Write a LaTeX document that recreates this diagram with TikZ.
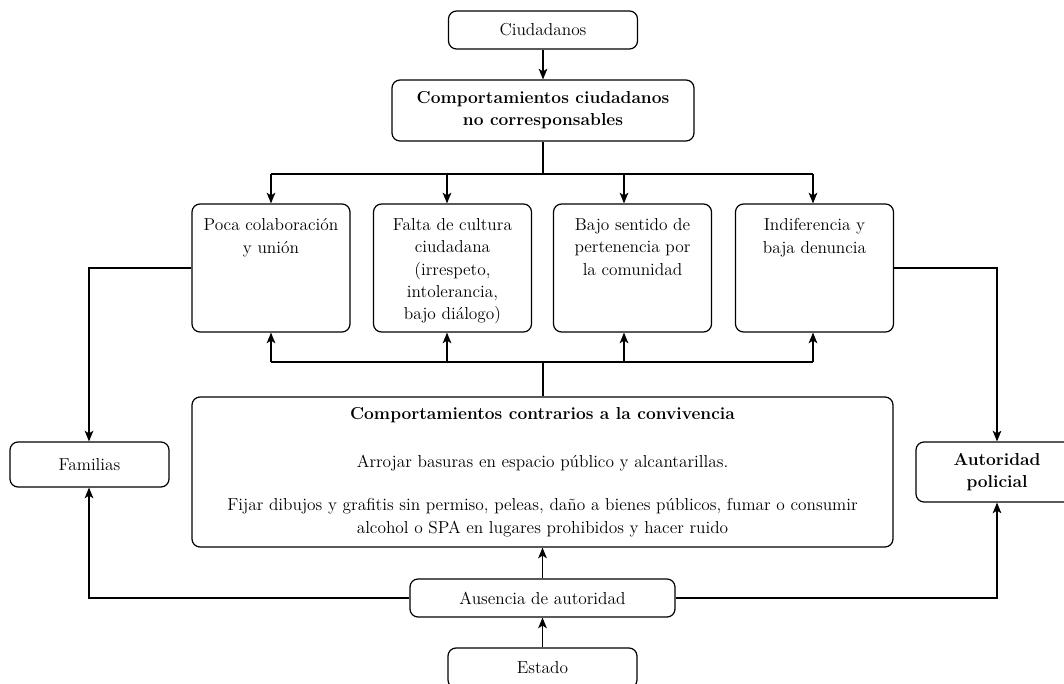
\documentclass[tikz,border=0pt]{standalone}
\usetikzlibrary{arrows.meta}
\begin{document}
\begin{tikzpicture}[x=0.75pt,y=-0.75pt,
  txt/.style={font=\fontsize{13}{16.7}\selectfont},
  box/.style={draw,line width=0.9pt,rounded corners=6pt,inner sep=0pt,align=center,txt},
  arr/.style={line width=0.9pt,-{Stealth[length=8pt,width=6.5pt,inset=2pt]}},
  ln/.style={line width=0.9pt}]
\useasboundingbox (0,0) rectangle (1064,684);
\fill[white] (0,0) rectangle (1064,684);
% nodes
\node[box,minimum width=141.75pt,minimum height=28.5pt] (ciu) at (543,30) {Ciudadanos};
\node[box,minimum width=226.5pt,minimum height=45.75pt] (cnc) at (543,110.5) {\bfseries Comportamientos ciudadanos\\\bfseries no corresponsables};
\node[box,minimum width=118.5pt,minimum height=96pt] (b1) at (271,268)
  {\parbox[c][74pt][t]{116pt}{\centering Poca colaboración\\y unión}};
\node[box,minimum width=118.5pt,minimum height=96pt] (b2) at (452.5,268)
  {\parbox[c][74pt][t]{116pt}{\centering Falta de cultura\\ciudadana\\(irrespeto,\\intolerancia,\\bajo diálogo)}};
\node[box,minimum width=118.5pt,minimum height=96pt] (b3) at (632.5,268)
  {\parbox[c][74pt][t]{116pt}{\centering Bajo sentido de\\pertenencia por\\la comunidad}};
\node[box,minimum width=118.5pt,minimum height=96pt] (b4) at (814.5,268)
  {\parbox[c][74pt][t]{116pt}{\centering Indiferencia y\\baja denuncia}};
\node[box,minimum width=525.75pt,minimum height=112.5pt] (big) at (542.5,472)
  {\bfseries Comportamientos contrarios a la convivencia\\[19pt]
   Arrojar basuras en espacio público y alcantarillas.\\[16pt]
   Fijar dibujos y grafitis sin permiso, peleas, daño a bienes públicos, fumar o consumir\\
   alcohol o SPA en lugares prohibidos y hacer ruido};
\node[box,minimum width=119.25pt,minimum height=33.75pt] (fam) at (89.5,464.5) {Familias};
\node[box,minimum width=121.5pt,minimum height=45pt] (aut) at (997,472) {\bfseries Autoridad\\\bfseries policial};
\node[box,minimum width=198.75pt,minimum height=28.5pt] (aus) at (542.5,598) {Ausencia de autoridad};
\node[box,minimum width=141.75pt,minimum height=30pt] (est) at (542.5,668) {\raisebox{1.5pt}{Estado}};
% coordinates
\coordinate (top) at (543,174);
\coordinate (t1) at (271,174);
\coordinate (t2) at (447,174);
\coordinate (t3) at (624,174);
\coordinate (t4) at (813,174);
\coordinate (bot) at (543,362);
\coordinate (u1) at (271,362);
\coordinate (u2) at (447,362);
\coordinate (u3) at (624,362);
\coordinate (u4) at (813,362);
\coordinate (lx) at (89,268);
\coordinate (rx) at (997,268);
\coordinate (lb) at (89,598);
\coordinate (rb) at (997,598);
% connectors
\draw[arr] (ciu) -- (cnc);
\draw[ln] (cnc.south) -- (top);
\draw[ln] (t1) -- (t4);
\draw[arr] (t1) -- (t1 |- b1.north);
\draw[arr] (t2) -- (t2 |- b2.north);
\draw[arr] (t3) -- (t3 |- b3.north);
\draw[arr] (t4) -- (t4 |- b4.north);
\draw[ln] (big.north -| bot) -- (bot);
\draw[ln] (u1) -- (u4);
\draw[arr] (u1) -- (u1 |- b1.south);
\draw[arr] (u2) -- (u2 |- b2.south);
\draw[arr] (u3) -- (u3 |- b3.south);
\draw[arr] (u4) -- (u4 |- b4.south);
\draw[arr] (b1.west |- lx) -- (lx) -- (lx |- fam.north);
\draw[arr] (b4.east |- rx) -- (rx) -- (rx |- aut.north);
\draw[arr] (est) -- (aus);
\draw[arr] (aus.north -| big.south) -- (big.south);
\draw[arr] (aus.west) -- (lb) -- (lb |- fam.south);
\draw[arr] (aus.east) -- (rb) -- (rb |- aut.south);
\end{tikzpicture}
\end{document}
